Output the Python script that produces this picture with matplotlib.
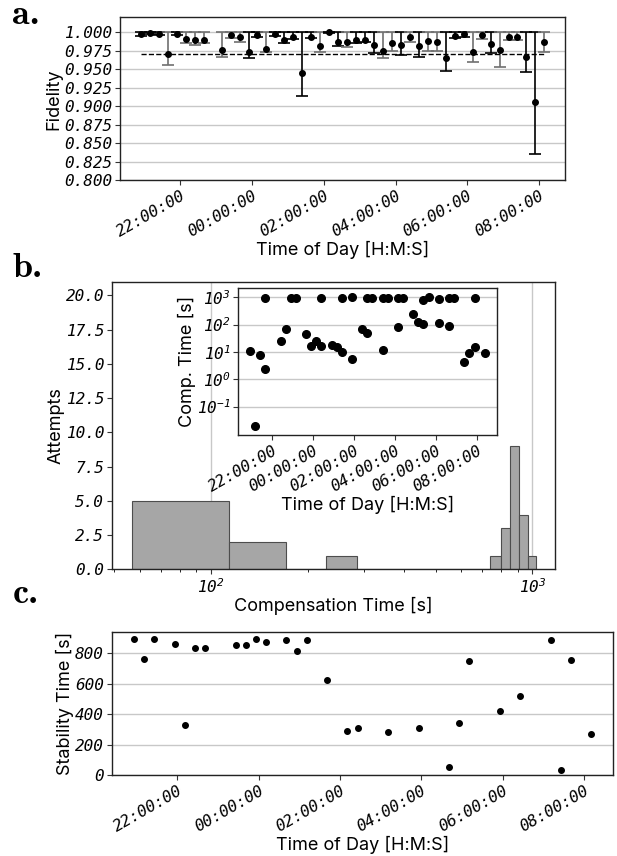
import datetime as dt
import numpy as np
import matplotlib
matplotlib.use('Agg')
import matplotlib.pyplot as plt
import matplotlib.dates as mdates
from matplotlib.ticker import FuncFormatter, FixedLocator, NullFormatter

# ---- panel a: fidelity per calibration (15 min slots) ----
fid_start = dt.datetime(2023, 5, 1, 20, 54)
fid_slot = [0, 1, 2, 3, 4, 5, 6, 7, 9, 10, 11, 12, 13, 14, 15, 16, 17, 18, 19,
            20, 21, 22, 23, 24, 25, 26, 27, 28, 29, 30, 31, 32, 33, 34, 35, 36,
            37, 38, 39, 40, 41, 42, 43, 44, 45]
fid_val = [0.9977, 0.999, 0.9977, 0.970, 0.9977, 0.9905, 0.989, 0.990, 0.976,
           0.9955, 0.9932, 0.973, 0.9964, 0.9775, 0.997, 0.9887, 0.993, 0.945,
           0.994, 0.9806, 1.000, 0.9865, 0.986, 0.990, 0.990, 0.9824, 0.9743,
           0.985, 0.982, 0.9937, 0.9806, 0.9874, 0.986, 0.9644, 0.995, 0.9968,
           0.9734, 0.9955, 0.9833, 0.9757, 0.9937, 0.9937, 0.9667, 0.905, 0.986]
fid_low = [0.995, 0.998, 0.996, 0.956, 0.9955, 0.9847, 0.983, 0.9856, 0.9667,
           0.9914, 0.987, 0.965, 0.994, 0.9734, 0.995, 0.985, 0.991, 0.9144,
           0.9914, 0.9725, 0.9986, 0.981, 0.9793, 0.985, 0.986, 0.9716, 0.9644,
           0.975, 0.9694, 0.9865, 0.9658, 0.974, 0.974, 0.9477, 0.9914, 0.9937,
           0.959, 0.991, 0.972, 0.953, 0.989, 0.990, 0.9455, 0.836, 0.9734]
fid_dark = [1, 1, 1, 0, 1, 0, 0, 0, 0, 0, 0, 1, 1, 0, 1, 1, 1, 1, 1, 0, 1, 1,
            0, 1, 1, 1, 0, 0, 1, 0, 1, 0, 0, 1, 1, 1, 0, 0, 1, 0, 0, 0, 1, 1, 0]
fid_threshold = 0.97

# ---- panel b: histogram of compensation times ----
hist_edges = [56.6 + 57.0 * k for k in range(18)]
hist_counts = [5, 2, 0, 1, 0, 0, 0, 0, 0, 0, 0, 0, 1, 3, 9, 4, 1]

# inset: compensation time per calibration
comp_start = dt.datetime(2023, 5, 1, 20, 54)
comp_slot = [0, 1, 2, 3, 3, 6, 7, 8, 9, 11, 12, 13, 14, 14, 16, 17, 18, 18,
             20, 20, 22, 23, 23, 24, 26, 26, 27, 29, 29, 30, 32, 33, 34, 34,
             35, 37, 37, 39, 39, 40, 42, 43, 44, 44, 46]
comp_val = [11.2, 0.0196, 7.4, 2.3, 900, 25.5, 67, 950, 950, 46.7, 16, 24, 16,
            950, 18, 14.8, 10.3, 950, 5.3, 980, 71, 48, 950, 950, 11.8, 950,
            950, 81, 900, 900, 245, 126, 104, 760, 1050, 117, 820, 91, 900,
            900, 4.4, 9.1, 15.5, 920, 8.9]

# ---- panel c: stability time ----
stab_start = dt.datetime(2023, 5, 1, 20, 56)
stab_slot = [0, 1, 2, 4, 5, 6, 7, 10, 11, 12, 13, 15, 16, 17, 19, 21, 22, 25,
             28, 31, 32, 33, 36, 38, 41, 42, 43, 45]
stab_val = [896, 760, 896, 861, 329, 833, 837, 855, 855, 892, 877, 888, 818,
            888, 625, 292, 311, 283, 311, 55, 346, 750, 423, 522, 888, 37, 758,
            270]

plt.rcParams['mathtext.fontset'] = 'custom'
plt.rcParams['mathtext.rm'] = 'DejaVu Sans Mono:oblique'
plt.rcParams['mathtext.it'] = 'DejaVu Sans Mono:oblique'


def slot_times(start, slots):
    return [start + dt.timedelta(minutes=15 * s) for s in slots]


def day(h, m):
    d = 1 if h >= 12 else 2
    return dt.datetime(2023, 5, d, h, m)


def pow10(v, pos):
    e = int(round(np.log10(v))) if v > 0 else 0
    return r'$\mathdefault{10^{%d}}$' % e


TICK_SIZE = 11.5
lab_font = dict(family='Inter', size=13)
grid_c = '#c8c8c8'


def style_ticks(ax):
    for lab in ax.get_xticklabels() + ax.get_yticklabels():
        lab.set_fontfamily('DejaVu Sans Mono')
        lab.set_fontstyle('oblique')
        lab.set_fontsize(TICK_SIZE)
    ax.tick_params(length=3.5, width=0.8, color='#333333', pad=2)
    for sp in ax.spines.values():
        sp.set_linewidth(1.0)
        sp.set_color('#222222')


def time_axis(ax, lo, hi):
    ax.set_xlim(lo, hi)
    ax.xaxis.set_major_locator(mdates.HourLocator(byhour=range(0, 24, 2)))
    ax.xaxis.set_major_formatter(mdates.DateFormatter('%H:%M:%S'))
    for lab in ax.get_xticklabels():
        lab.set_rotation(30)
        lab.set_ha('right')
        lab.set_rotation_mode('anchor')


fig = plt.figure(figsize=(6.17, 8.56), dpi=100)

# panel a
ax1 = fig.add_axes([0.1945, 0.7894, 0.7217, 0.1904])
ft = slot_times(fid_start, fid_slot)
ax1.grid(axis='y', color=grid_c, lw=1.0)
ax1.set_axisbelow(True)
for t, v, lo, dk in zip(ft, fid_val, fid_low, fid_dark):
    col = 'black' if dk else '#707070'
    ax1.errorbar([t], [v], yerr=[[v - lo], [1.0 - v]], fmt='o', ms=4,
                 color='black', ecolor=col, elinewidth=1.2, capsize=4,
                 capthick=1.2)
ax1.hlines(fid_threshold, ft[0], ft[-1], colors='black', linestyles='--', lw=1)
ax1.set_ylim(0.8, 1.02)
ax1.yaxis.set_major_locator(FixedLocator([0.8 + 0.025 * k for k in range(9)]))
ax1.yaxis.set_major_formatter(FuncFormatter(lambda v, p: '%.3f' % v))
time_axis(ax1, day(20, 19), day(8, 44))
ax1.set_ylabel('Fidelity', **lab_font, labelpad=1)
ax1.set_xlabel('Time of Day [H:M:S]', **lab_font, labelpad=1)
style_ticks(ax1)

# panel b
ax2 = fig.add_axes([0.181, 0.3349, 0.719, 0.336])
ax2.hist(hist_edges[:-1], bins=hist_edges, weights=hist_counts,
         color='#a6a6a6', edgecolor='#4d4d4d', linewidth=0.8, zorder=2)
ax2.set_xscale('log')
ax2.set_xlim(49, 1180)
ax2.set_ylim(0, 21)
ax2.grid(axis='x', which='major', color=grid_c, lw=1.0, zorder=0)
ax2.set_axisbelow(True)
ax2.yaxis.set_major_locator(FixedLocator([2.5 * k for k in range(9)]))
ax2.yaxis.set_major_formatter(FuncFormatter(lambda v, p: '%.1f' % v))
ax2.xaxis.set_major_formatter(FuncFormatter(pow10))
ax2.xaxis.set_minor_formatter(NullFormatter())
ax2.set_ylabel('Attempts', **lab_font, labelpad=1)
ax2.set_xlabel('Compensation Time [s]', **lab_font, labelpad=1)
style_ticks(ax2)
ax2.tick_params(which='minor', length=2, width=0.6)

# inset
ax3 = fig.add_axes([0.3862, 0.4918, 0.4188, 0.1714])
ct = slot_times(comp_start, comp_slot)
ax3.plot(ct, comp_val, 'o', color='black', ms=5.5, zorder=3)
ax3.set_yscale('log')
ax3.set_ylim(0.0092, 2100)
ax3.yaxis.set_major_locator(FixedLocator([0.1, 1, 10, 100, 1000]))
ax3.yaxis.set_major_formatter(FuncFormatter(pow10))
ax3.yaxis.set_minor_locator(FixedLocator([]))
ax3.grid(axis='y', color=grid_c, lw=1.0)
ax3.set_axisbelow(True)
time_axis(ax3, day(20, 20), day(8, 59))
ax3.set_ylabel('Comp. Time [s]', **lab_font, labelpad=1)
ax3.set_xlabel('Time of Day [H:M:S]', **lab_font, labelpad=1)
style_ticks(ax3)

# panel c
ax4 = fig.add_axes([0.181, 0.0943, 0.8125, 0.167])
st = slot_times(stab_start, stab_slot)
ax4.plot(st, stab_val, 'o', color='black', ms=4, zorder=3)
ax4.set_ylim(0, 938)
ax4.yaxis.set_major_locator(FixedLocator([0, 200, 400, 600, 800]))
ax4.yaxis.set_major_formatter(FuncFormatter(lambda v, p: '%d' % v))
ax4.grid(axis='y', color=grid_c, lw=1.0)
ax4.set_axisbelow(True)
time_axis(ax4, day(20, 23), day(8, 43))
ax4.set_ylabel('Stability Time [s]', **lab_font, labelpad=1)
ax4.set_xlabel('Time of Day [H:M:S]', **lab_font, labelpad=1)
style_ticks(ax4)

for lab, y in [('a.', 0.982), ('b.', 0.686), ('c.', 0.305)]:
    fig.text(0.02, y, lab, family='cmb10', fontsize=26, va='center')

fig.savefig('out.png', dpi=100)
